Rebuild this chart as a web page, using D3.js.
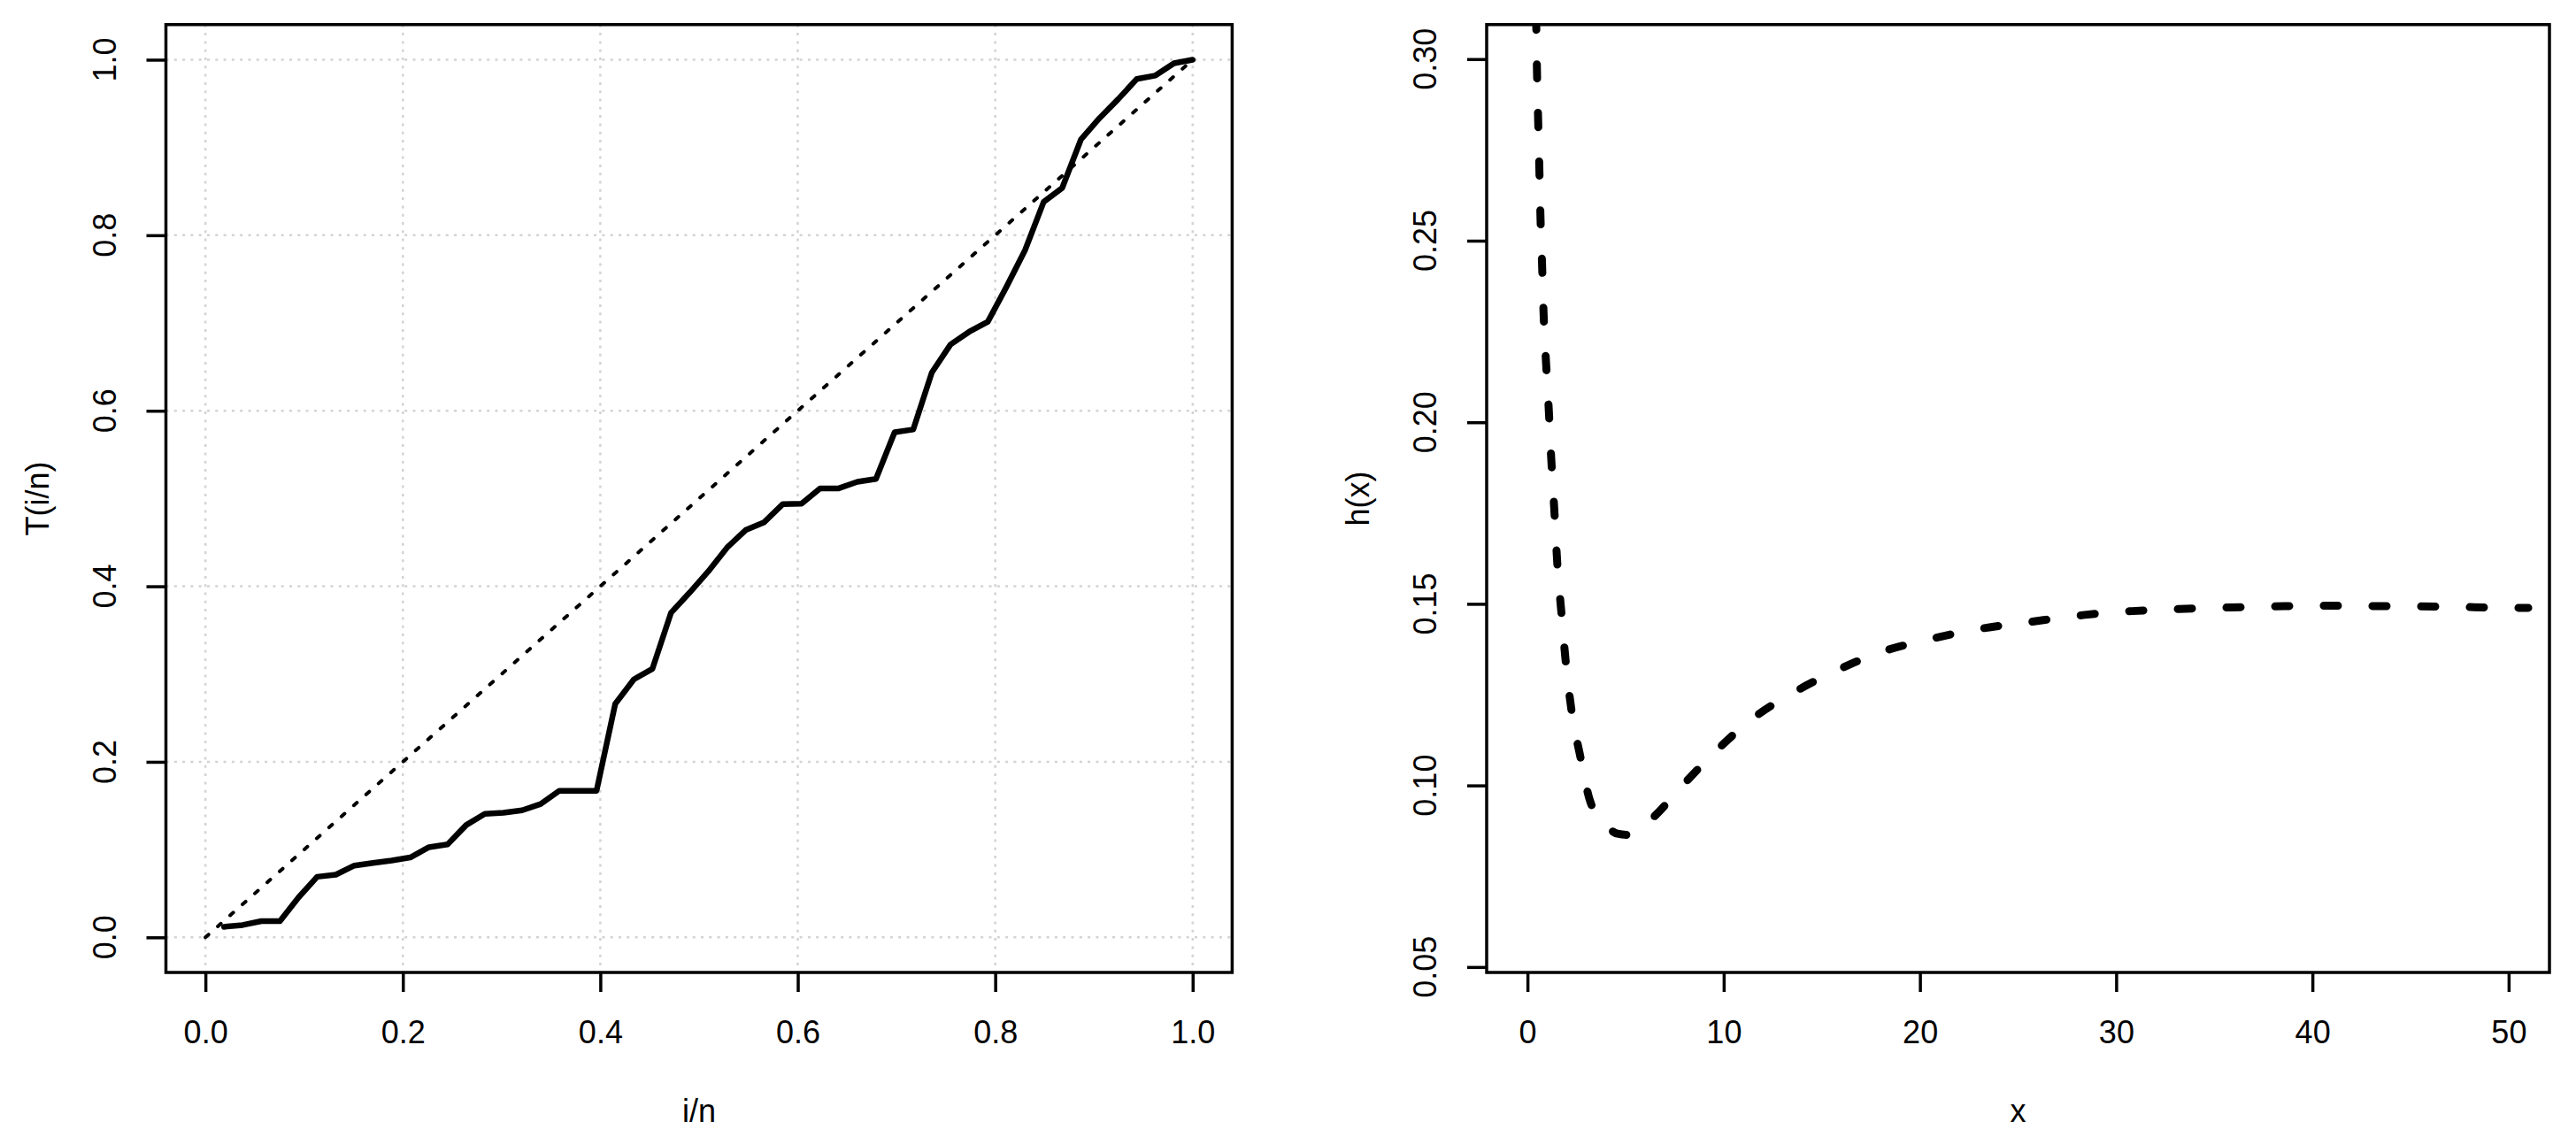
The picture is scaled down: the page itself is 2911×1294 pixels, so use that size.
<!DOCTYPE html>
<html><head><meta charset="utf-8">
<script src="https://cdn.jsdelivr.net/npm/d3@7"></script>
<style>
html,body{margin:0;padding:0;background:#fff;}
svg{display:block;}
text{font-family:"Liberation Sans",Arial,Helvetica,sans-serif;fill:#000;}
</style>
</head><body>
<svg id="chart" width="2911" height="1294"></svg>
<script>
// ---- Left panel data: T(i/n) against i/n ----
const iOverN = [0.0189,0.0377,0.0566,0.0755,0.0943,0.1132,0.1321,0.1509,0.1698,0.1887,
  0.2075,0.2264,0.2453,0.2642,0.2830,0.3019,0.3208,0.3396,0.3585,0.3774,
  0.3962,0.4151,0.4340,0.4528,0.4717,0.4906,0.5094,0.5283,0.5472,0.5660,
  0.5849,0.6038,0.6226,0.6415,0.6604,0.6792,0.6981,0.7170,0.7358,0.7547,
  0.7736,0.7925,0.8113,0.8302,0.8491,0.8679,0.8868,0.9057,0.9245,0.9434,
  0.9623,0.9811,1.0];
const Tvals = [0.012,0.014,0.0185,0.0185,0.0455,0.069,0.0714,0.0818,0.0848,0.0875,
  0.091,0.1027,0.106,0.128,0.1407,0.142,0.1448,0.152,0.167,0.167,
  0.167,0.266,0.294,0.306,0.370,0.393,0.417,0.444,0.464,0.473,
  0.4937,0.494,0.5116,0.5116,0.519,0.5224,0.5755,0.5787,0.6435,0.6755,
  0.690,0.7014,0.741,0.783,0.838,0.854,0.909,0.9335,0.955,0.978,
  0.982,0.996,1.0];
const diagX = [0, 1];
const diagY = [0, 1];
const leftTicks = [0, 0.2, 0.4, 0.6, 0.8, 1.0];
const leftTickLabels = ["0.0","0.2","0.4","0.6","0.8","1.0"];
const leftXTitle = "i/n";
const leftYTitle = "T(i/n)";

// ---- Right panel data: h(x) ----
const hX = [0.44,0.48,0.54,0.60,0.66,0.74,0.82,0.94,1.08,1.18,
  1.38,1.52,1.73,1.95,2.25,2.69,3.19,4.09,4.59,5.04,
  6.3,7.9,9.7,11.5,13.6,15.7,18.0,20.3,22.7,25.6,
  28.3,30.8,33.2,35.7,38.1,40.6,43.0,45.5,48.0,50.4,51.0];
const hY = [0.312,0.2978,0.284,0.271,0.257,0.244,0.230,0.217,0.204,0.193,
  0.1747,0.161,0.1475,0.134,0.1204,0.108,0.0957,0.0885,0.0867,0.0864,
  0.0907,0.100,0.110,0.1185,0.1257,0.1315,0.1367,0.140,0.1428,0.145,
  0.1469,0.148,0.1486,0.149,0.1493,0.1495,0.1494,0.1493,0.1491,0.1489,0.1489];
const rightXTicks = [0, 10, 20, 30, 40, 50];
const rightXTickLabels = ["0","10","20","30","40","50"];
const rightYTicks = [0.05, 0.10, 0.15, 0.20, 0.25, 0.30];
const rightYTickLabels = ["0.05","0.10","0.15","0.20","0.25","0.30"];
const rightXTitle = "x";
const rightYTitle = "h(x)";

// ---- layout ----
const FS = 36;
const TICK = 22;
const svg = d3.select("#chart");
svg.append("rect").attr("width",2911).attr("height",1294).attr("fill","#fff");

function panel(cfg){
  const g = svg.append("g");
  const x = d3.scaleLinear().domain(cfg.xdom).range([cfg.x0, cfg.x1]);
  const y = d3.scaleLinear().domain(cfg.ydom).range([cfg.y1, cfg.y0]);
  const clipId = "clip" + cfg.id;
  svg.append("defs").append("clipPath").attr("id", clipId)
    .append("rect").attr("x", cfg.x0).attr("y", cfg.y0)
    .attr("width", cfg.x1 - cfg.x0).attr("height", cfg.y1 - cfg.y0);

  if (cfg.grid) {
    const gg = g.append("g").attr("stroke","#d3d3d3").attr("stroke-width",2.5)
      .attr("stroke-dasharray","3 6.3").attr("fill","none");
    gg.selectAll("line.v").data(cfg.xticks).join("line")
      .attr("x1", d=>x(d)).attr("x2", d=>x(d)).attr("y1", cfg.y0).attr("y2", cfg.y1);
    gg.selectAll("line.h").data(cfg.yticks).join("line")
      .attr("y1", d=>y(d)).attr("y2", d=>y(d)).attr("x1", cfg.x0).attr("x2", cfg.x1);
  }

  // x axis
  const xa = g.append("g").attr("transform", `translate(0,${cfg.y1})`)
    .call(d3.axisBottom(x).tickValues(cfg.xticks).tickFormat((d,i)=>cfg.xlabels[i])
      .tickSize(TICK).tickSizeOuter(0).tickPadding(32));
  xa.select(".domain").remove();
  xa.selectAll("line").attr("stroke","#000").attr("stroke-width",3.5);
  xa.selectAll("text").attr("font-size",FS).attr("font-family",null).attr("fill","#000");

  // y axis ticks
  const ya = g.append("g").attr("transform", `translate(${cfg.x0},0)`)
    .call(d3.axisLeft(y).tickValues(cfg.yticks).tickFormat("").tickSize(TICK).tickSizeOuter(0));
  ya.select(".domain").remove();
  ya.selectAll("line").attr("stroke","#000").attr("stroke-width",3.5);
  g.selectAll("text.ylab").data(cfg.yticks).join("text").attr("class","ylab")
    .attr("transform", (d)=>`translate(${cfg.x0 - 57},${y(d)}) rotate(-90)`)
    .attr("text-anchor","middle").attr("font-size",FS)
    .text((d,i)=>cfg.ylabels[i]);

  // titles
  g.append("text").attr("x",(cfg.x0+cfg.x1)/2).attr("y",cfg.y1+169)
    .attr("text-anchor","middle").attr("font-size",FS).text(cfg.xtitle);
  g.append("text").attr("transform",`translate(${cfg.x0-133},${(cfg.y0+cfg.y1)/2}) rotate(-90)`)
    .attr("text-anchor","middle").attr("font-size",FS).text(cfg.ytitle);

  const plot = g.append("g").attr("clip-path", `url(#${clipId})`);
  cfg.draw(plot, x, y);

  g.append("rect").attr("x",cfg.x0).attr("y",cfg.y0)
    .attr("width",cfg.x1-cfg.x0).attr("height",cfg.y1-cfg.y0)
    .attr("fill","none").attr("stroke","#000").attr("stroke-width",3.5);
}

panel({
  id:"L", x0:187.5, x1:1392.4, y0:27.8, y1:1099,
  xdom:[-0.04,1.04], ydom:[-0.04,1.04], grid:true,
  xticks:leftTicks, xlabels:leftTickLabels, yticks:leftTicks, ylabels:leftTickLabels,
  xtitle:leftXTitle, ytitle:leftYTitle,
  draw:(p,x,y)=>{
    const diag = diagX.map((v,i)=>[v, diagY[i]]);
    p.append("path").datum(diag)
      .attr("d", d3.line().x(d=>x(d[0])).y(d=>y(d[1])))
      .attr("fill","none").attr("stroke","#000").attr("stroke-width",4)
      .attr("stroke-dasharray","4.7 14").attr("stroke-linecap","round");
    const pts = iOverN.map((v,i)=>[v, Tvals[i]]);
    p.append("path").datum(pts)
      .attr("d", d3.line().x(d=>x(d[0])).y(d=>y(d[1])))
      .attr("fill","none").attr("stroke","#000").attr("stroke-width",6.5)
      .attr("stroke-linejoin","round").attr("stroke-linecap","round");
  }
});

panel({
  id:"R", x0:1680, x1:2881, y0:27.8, y1:1099,
  xdom:[-2.08,52.08], ydom:[0.0485,0.3095], grid:false,
  xticks:rightXTicks, xlabels:rightXTickLabels, yticks:rightYTicks, ylabels:rightYTickLabels,
  xtitle:rightXTitle, ytitle:rightYTitle,
  draw:(p,x,y)=>{
    const pts = hX.map((v,i)=>[v, hY[i]]);
    p.append("path").datum(pts)
      .attr("d", d3.line().curve(d3.curveMonotoneX).x(d=>x(d[0])).y(d=>y(d[1])))
      .attr("fill","none").attr("stroke","#000").attr("stroke-width",9)
      .attr("stroke-dasharray","16 39").attr("stroke-linecap","round");
  }
});
</script>
</body></html>
